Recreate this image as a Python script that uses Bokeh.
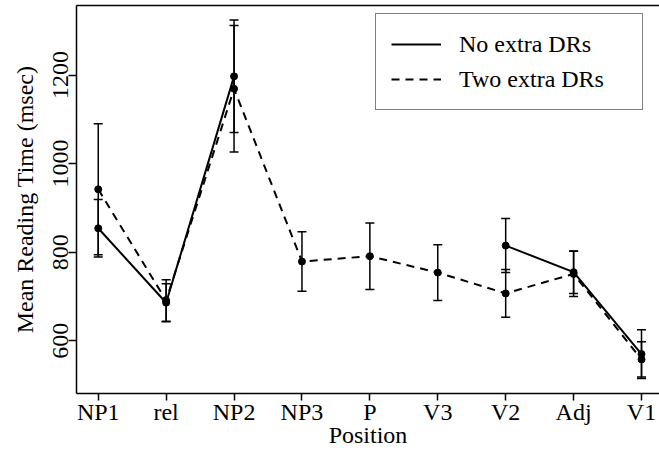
import math
from bokeh.plotting import figure
from bokeh.models import (Range1d, FixedTicker, LinearAxis, Legend, LegendItem,
                          Whisker, TeeHead, ColumnDataSource)
from bokeh.embed import file_html
from bokeh.resources import INLINE

nan = float("nan")

# ---- data ----
positions = ["NP1", "rel", "NP2", "NP3", "P", "V3", "V2", "Adj", "V1"]
no_extra_mean = [854, 686, 1197, nan, nan, nan, 815, 755, 570]
no_extra_ci = [65, 43, 127, nan, nan, nan, 61, 48, 55]
two_extra_mean = [942, 691, 1169, 779, 791, 754, 707, 751, 558]
two_extra_ci = [148, 47, 143, 67, 75, 63, 54, 51, 40]
y_ticks = [600, 800, 1000, 1200]
series_names = ["No extra DRs", "Two extra DRs"]

FONT = "Liberation Serif"
xs = list(range(1, len(positions) + 1))

p = figure(frame_width=583, frame_height=388, output_backend="svg",
           toolbar_location=None,
           x_range=Range1d(0.68, 9.265), y_range=Range1d(481, 1357),
           min_border_left=76, min_border_right=0, min_border_top=5,
           min_border_bottom=67)
p.outline_line_color = None
p.xgrid.visible = False
p.ygrid.visible = False
p.background_fill_color = "white"
p.border_fill_color = "white"


def pts(means, cis):
    x, y, lo, hi = [], [], [], []
    for xi, m, c in zip(xs, means, cis):
        if not math.isnan(m):
            x.append(xi); y.append(m); lo.append(m - c); hi.append(m + c)
    return ColumnDataSource(dict(x=x, y=y, lower=lo, upper=hi))


renderers = []
for means, cis, dash in [(no_extra_mean, no_extra_ci, "solid"),
                         (two_extra_mean, two_extra_ci, "8 6")]:
    r = p.line(xs, means, line_color="black", line_width=2, line_dash=dash)
    renderers.append(r)
    src = pts(means, cis)
    w = Whisker(source=src, base="x", lower="lower", upper="upper",
                line_color="black", line_width=1.5,
                upper_head=TeeHead(size=9, line_color="black", line_width=1.5),
                lower_head=TeeHead(size=9, line_color="black", line_width=1.5))
    p.add_layout(w)
    p.scatter("x", "y", source=src, size=7, color="black")

# axes
for ax in (p.xaxis[0], p.yaxis[0]):
    ax.axis_line_width = 1.5
    ax.axis_line_color = "black"
    ax.major_tick_line_color = "black"
    ax.major_tick_line_width = 1.5
    ax.major_tick_in = 0
    ax.minor_tick_line_color = None
    ax.major_label_text_font = FONT
    ax.major_label_text_color = "black"
    ax.axis_label_text_font = FONT
    ax.axis_label_text_font_style = "normal"
    ax.axis_label_text_color = "black"

p.xaxis.ticker = FixedTicker(ticks=xs)
p.xaxis.major_label_overrides = {x: n for x, n in zip(xs, positions)}
p.xaxis.major_label_text_font_size = "24px"
p.xaxis.axis_label = "Position"
p.xaxis.axis_label_text_font_size = "24px"
p.xaxis.major_tick_out = 7
p.xaxis.major_label_standoff = -2
p.xaxis.axis_label_standoff = -6

p.yaxis.ticker = FixedTicker(ticks=y_ticks)
p.yaxis.major_label_orientation = "vertical"
p.yaxis.major_label_text_font_size = "24px"
p.yaxis.axis_label = "Mean Reading Time (msec)"
p.yaxis.axis_label_text_font_size = "24px"
p.yaxis.major_tick_out = 8
p.yaxis.major_label_standoff = 0
p.yaxis.axis_label_standoff = 13

top = LinearAxis(ticker=FixedTicker(ticks=[]), axis_line_width=1.5,
                 axis_line_color="black", major_tick_out=0, major_tick_in=0,
                 major_label_standoff=0,
                 minor_tick_line_color=None, major_label_text_font_size="0px")
p.add_layout(top, "above")

legend = Legend(items=[LegendItem(label=n, renderers=[r])
                       for n, r in zip(series_names, renderers)],
                location=(299, 283), border_line_color="black",
                border_line_width=1.5, background_fill_alpha=1.0,
                label_text_font=FONT, label_text_font_size="24px",
                label_text_color="black",
                glyph_width=50, glyph_height=30, label_height=30,
                label_width=168,
                spacing=5, padding=15, label_standoff=18, margin=0)
p.add_layout(legend, "center")

open("out.html", "w").write(file_html(p, INLINE))
